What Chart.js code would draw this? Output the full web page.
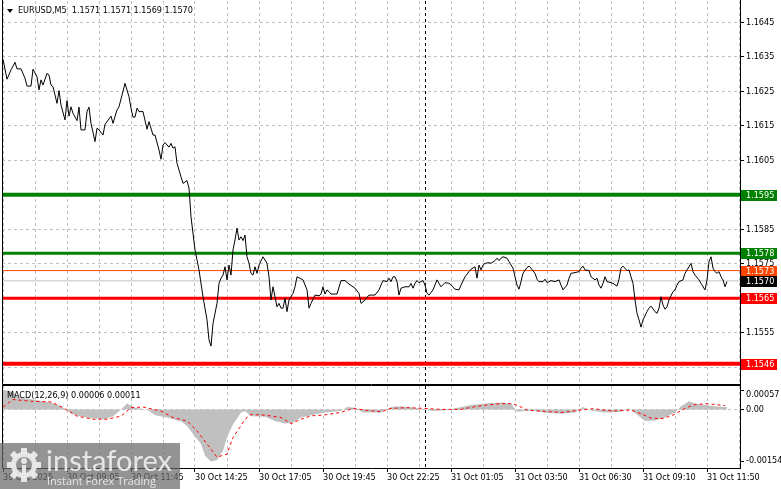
<!DOCTYPE html>
<html lang="en">
<head>
<meta charset="UTF-8">
<title>EURUSD M5</title>
<script src="https://cdn.jsdelivr.net/npm/chart.js@4.4.1/dist/chart.umd.min.js"></script>
<style>
  html, body { margin: 0; padding: 0; background: #fff; }
  #wrap { position: relative; width: 781px; height: 489px; overflow: hidden; }
  #wrap canvas { position: absolute; left: 0; }
  #main { top: 0; }
  #macd { top: 385px; }
</style>
</head>
<body>
<div id="wrap">
  <canvas id="main" width="781" height="385"></canvas>
  <canvas id="macd" width="781" height="104"></canvas>
</div>
<script>
const FONT = '"DejaVu Sans Condensed", "DejaVu Sans", sans-serif';

// bar number (5 min bars, 0 = 30 Oct 06:25) and close
const barIdx = [0,2,4,6,7,9,11,12,14,15,17,18,19,20,22,23,24,25,27,28,29,31,32,33,34,35,37,38,39,41,
  42,43,44,46,47,48,50,51,54,55,57,58,61,63,64,65,66,67,68,70,72,73,75,76,78,79,80,81,83,84,
  85,86,87,89,90,92,93,94,96,97,98,100,102,103,104,105,107,108,109,110,111,112,113,114,115,116,117,118,119,120,
  121,122,123,124,125,126,127,128,130,132,133,134,135,136,137,138,139,140,141,142,143,145,146,147,150,152,153,154,156,158,
  159,160,161,162,163,164,167,169,171,173,176,178,179,181,183,184,186,188,189,190,192,193,194,195,196,197,198,199,201,203,
  204,205,206,207,208,210,211,212,213,215,217,218,219,221,223,224,226,228,229,231,233,234,236,237,238,239,240,241,243,244,
  246,247,248,249,250,252,253,255,256,257,258,259,260,262,263,264,266,267,268,270,271,272,274,276,278,279,280,282,283,284,
  286,288,289,290,291,293,294,296,297,298,299,300,301,302,304,305,307,308,309,310,312,313,314,315,316,317,318,319,320,322,
  323,324,326,327,328,329,330,331,332,333,335,336,337,338,340,341,342,343,344,345,346,348,349,351,352,353,354,355,356,357,
  358,359,360,361,362];
const closes = [1.16343,1.16285,1.16312,1.16334,1.16315,1.16315,1.16288,1.16265,1.16265,1.16314,1.16292,1.16254,1.16283,1.16268,1.16302,1.16297,1.16268,1.16263,1.16215,1.16252,1.16210,1.16167,1.16223,1.16178,1.16205,1.16186,1.16165,1.16204,1.16138,1.16138,
  1.16191,1.16204,1.16157,1.16104,1.16143,1.16138,1.16123,1.16154,1.16178,1.16157,1.16196,1.16205,1.16273,1.16234,1.16201,1.16175,1.16175,1.16201,1.16191,1.16191,1.16140,1.16162,1.16123,1.16123,1.16080,1.16053,1.16094,1.16101,1.16088,1.16099,
  1.16085,1.16089,1.16041,1.16002,1.15983,1.15991,1.15969,1.15886,1.15790,1.15761,1.15732,1.15654,1.15587,1.15529,1.15511,1.15577,1.15635,1.15693,1.15708,1.15717,1.15741,1.15703,1.15746,1.15717,1.15790,1.15819,1.15853,1.15819,1.15828,1.15817,
  1.15833,1.15770,1.15751,1.15722,1.15717,1.15741,1.15722,1.15746,1.15770,1.15751,1.15712,1.15645,1.15683,1.15654,1.15625,1.15635,1.15621,1.15621,1.15650,1.15611,1.15645,1.15664,1.15683,1.15712,1.15703,1.15674,1.15621,1.15635,1.15659,1.15657,
  1.15662,1.15683,1.15662,1.15674,1.15669,1.15662,1.15662,1.15701,1.15701,1.15691,1.15679,1.15664,1.15635,1.15645,1.15659,1.15659,1.15659,1.15674,1.15688,1.15701,1.15698,1.15708,1.15698,1.15712,1.15712,1.15698,1.15659,1.15679,1.15683,1.15683,
  1.15693,1.15679,1.15693,1.15701,1.15695,1.15701,1.15688,1.15664,1.15659,1.15674,1.15703,1.15693,1.15683,1.15695,1.15693,1.15688,1.15676,1.15674,1.15688,1.15712,1.15727,1.15734,1.15741,1.15708,1.15746,1.15732,1.15746,1.15751,1.15753,1.15751,
  1.15759,1.15766,1.15759,1.15766,1.15770,1.15766,1.15756,1.15737,1.15712,1.15688,1.15676,1.15698,1.15722,1.15739,1.15743,1.15737,1.15722,1.15705,1.15698,1.15698,1.15705,1.15695,1.15701,1.15698,1.15703,1.15688,1.15674,1.15688,1.15708,1.15722,
  1.15724,1.15727,1.15737,1.15743,1.15732,1.15730,1.15712,1.15703,1.15708,1.15688,1.15679,1.15693,1.15712,1.15698,1.15695,1.15693,1.15685,1.15705,1.15737,1.15743,1.15730,1.15732,1.15712,1.15693,1.15645,1.15606,1.15587,1.15566,1.15587,1.15611,
  1.15621,1.15627,1.15611,1.15606,1.15621,1.15654,1.15630,1.15618,1.15625,1.15645,1.15669,1.15674,1.15688,1.15698,1.15703,1.15722,1.15732,1.15741,1.15751,1.15727,1.15717,1.15703,1.15693,1.15674,1.15703,1.15756,1.15770,1.15737,1.15727,1.15722,
  1.15727,1.15712,1.15703,1.15683,1.15698];

// MACD(12,26,9) histogram and signal
const macdIdx = [0,3,5,9,15,24,29,31,36,44,51,55,59,62,66,72,76,82,89,92,95,99,101,104,107,110,112,115,119,121,
  124,131,136,141,145,149,154,161,169,172,176,180,189,194,199,206,215,221,226,234,241,249,254,257,264,271,279,286,290,295,
  301,309,313,318,321,326,331,336,339,343,346,351,356,362];
const macdHist = [0.00057,0.00055,0.00050,0.00034,0.00029,0.00020,0.00009,0,-0.00017,-0.00026,-0.00029,-0.00020,0,0.00017,0.00005,0,-0.00017,-0.00024,-0.00036,-0.00048,-0.00073,-0.00102,-0.00137,-0.00154,-0.00150,-0.00122,-0.00083,-0.00044,-0.00009,-0.00005,
  -0.00020,-0.00022,-0.00034,-0.00042,-0.00039,-0.00024,-0.00017,-0.00009,-0.00005,0.00007,0.00005,-0.00009,-0.00009,0.00007,0.00009,0.00005,-0.00005,-0.00003,0.00003,0.00013,0.00017,0.00020,0.00017,-0.00007,-0.00003,-0.00009,-0.00013,-0.00009,0.00007,-0.00005,
  -0.00009,-0.00007,0.00003,-0.00020,-0.00034,-0.00033,-0.00024,-0.00009,0.00009,0.00024,0.00017,0.00013,0.00009,0.00006];
const signalIdx = [0,5,14,24,30,37,45,52,59,64,70,79,85,92,97,102,107,112,115,119,121,124,131,139,144,149,154,160,169,175,
  182,189,194,202,210,219,229,235,242,249,255,259,262,272,280,289,295,305,314,320,324,330,335,340,345,352,361];
const signalVals = [0.00007,0.00029,0.00024,0.00022,0.00005,-0.00020,-0.00029,-0.00029,-0.00020,0.00005,0.00007,-0.00005,-0.00024,-0.00034,-0.00063,-0.00102,-0.00141,-0.00132,-0.00083,-0.00048,-0.00029,-0.00015,-0.00017,-0.00024,-0.00042,-0.00029,-0.00019,-0.00017,-0.00009,0.00003,
  -0.00003,-0.00007,0.00003,0.00005,0.00003,0,0,0.00007,0.00013,0.00017,0.00017,0.00007,-0.00002,-0.00007,-0.00009,-0.00002,0.00002,-0.00005,-0.00002,-0.00015,-0.00026,-0.00027,-0.00017,0,0.00013,0.00017,0.00011];

// horizontal levels
const levelPrices = [1.1595, 1.1578, 1.1573, 1.1570, 1.1565, 1.1546];
const levelColors = ['#008000', '#008000', '#ff4500', '#c0c0c0', '#ff0000', '#ff0000'];
const levelWidths = [4, 3, 1, 1, 3, 4];
const levelLabelBg = ['#008000', '#008000', '#ff4500', '#000000', '#ff0000', '#ff0000'];

// axes
const priceTicks = [1.1545, 1.1555, 1.1565, 1.1575, 1.1585, 1.1595, 1.1605, 1.1615, 1.1625, 1.1635, 1.1645];
const macdTicks = [0.00057, 0, -0.00154];
const macdTickText = ['0.00057', '0.00', '-0.00154'];
const timeLabels = ['30 Oct 2025', '30 Oct 09:05', '30 Oct 11:45', '30 Oct 14:25', '30 Oct 17:05', '30 Oct 19:45',
  '30 Oct 22:25', '31 Oct 01:05', '31 Oct 03:50', '31 Oct 06:30', '31 Oct 09:10', '31 Oct 11:50'];
const separatorBar = 211;   // 31 Oct 00:00

const X_MIN = -0.5, X_MAX = 368.5;
const gridBars = [];
for (let b = 0; b <= 368; b += 16) gridBars.push(b);

const fnt = { family: FONT, size: 9 };

// drop the label overhang padding chart.js adds, so the plot keeps a fixed size
function fixBox(w, h) {
  return s => {
    if (w !== null) s.width = w;
    if (h !== null) s.height = h;
    s.paddingTop = 0; s.paddingBottom = 0; s.paddingLeft = 0; s.paddingRight = 0;
  };
}

function drawSeparator(chart) {
  const { ctx, chartArea: a, scales: { x } } = chart;
  const px = Math.round(x.getPixelForValue(separatorBar)) + 0.5;
  ctx.save();
  ctx.strokeStyle = '#000';
  ctx.lineWidth = 1;
  ctx.setLineDash([3, 3]);
  ctx.beginPath();
  ctx.moveTo(px, a.top);
  ctx.lineTo(px, a.bottom);
  ctx.stroke();
  ctx.restore();
}

function drawFrame(ctx, a, top) {
  ctx.save();
  ctx.strokeStyle = '#000';
  ctx.lineWidth = 1;
  ctx.beginPath();
  if (top) { ctx.moveTo(a.left + 0.5, a.top - 0.5); ctx.lineTo(a.right + 0.5, a.top - 0.5); }
  ctx.moveTo(a.left + 0.5, a.top - 1);
  ctx.lineTo(a.left + 0.5, a.bottom + 0.5);
  ctx.lineTo(a.right + 0.5, a.bottom + 0.5);
  ctx.lineTo(a.right + 0.5, a.top - 1);
  ctx.stroke();
  ctx.restore();
}

const mainDecor = {
  id: 'mainDecor',
  beforeDatasetsDraw(chart) { drawSeparator(chart); },
  afterDraw(chart) {
    const { ctx, chartArea: a, scales: { y } } = chart;
    drawFrame(ctx, a, false);
    ctx.save();
    ctx.font = '9px ' + FONT;
    ctx.textBaseline = 'middle';
    levelPrices.forEach((p, k) => {
      const py = Math.round(y.getPixelForValue(p));
      ctx.fillStyle = levelLabelBg[k];
      ctx.fillRect(a.right + 1, py - 5, 36, 11);
      ctx.fillStyle = '#fff';
      ctx.fillText(p.toFixed(4), a.right + 6, py + 0.5);
    });
    // symbol header
    ctx.fillStyle = '#000';
    ctx.beginPath();
    ctx.moveTo(7, 9); ctx.lineTo(13, 9); ctx.lineTo(10, 13); ctx.closePath();
    ctx.fill();
    ctx.fillText('EURUSD,M5  1.1571 1.1571 1.1569 1.1570', 18, 11);
    ctx.restore();
  }
};

function drawGear(ctx, cx, cy, r) {
  ctx.save();
  ctx.translate(cx, cy);
  for (let k = 0; k < 8; k++) {
    ctx.rotate(Math.PI / 4);
    ctx.fillRect(-3, -r - 4, 6, 6);
  }
  ctx.beginPath();
  ctx.arc(0, 0, r, 0, Math.PI * 2);
  ctx.arc(0, 0, r - 5, 0, Math.PI * 2, true);
  ctx.fill();
  ctx.beginPath();
  ctx.arc(0, -4, 3, 0, Math.PI * 2);
  ctx.fill();
  ctx.fillRect(-2, 0, 4, 9);
  ctx.restore();
}

const macdDecor = {
  id: 'macdDecor',
  beforeDatasetsDraw(chart) { drawSeparator(chart); },
  afterDraw(chart) {
    const { ctx, chartArea: a, scales: { y } } = chart;
    drawFrame(ctx, a, true);
    ctx.save();
    ctx.font = '9px ' + FONT;
    ctx.textBaseline = 'middle';
    ctx.fillStyle = '#000';
    ctx.fillText('MACD(12,26,9) 0.00006 0.00011', 7, 11);
    // scale labels, the outer two pulled inside the panel like the terminal does
    macdTicks.forEach((v, k) => {
      let py = y.getPixelForValue(v);
      if (k === 0) py += 5;
      if (k === macdTicks.length - 1) py -= 1;
      ctx.fillText(macdTickText[k], a.right + 6, py);
    });
    // watermark
    ctx.fillStyle = 'rgba(105,105,105,0.72)';
    ctx.fillRect(0, 58, 180, 46);
    ctx.fillStyle = 'rgba(235,235,235,0.95)';
    drawGear(ctx, 24, 80, 13);
    ctx.font = '29px Lato, "Open Sans", sans-serif';
    ctx.textBaseline = 'alphabetic';
    ctx.fillText('instaforex', 46, 86);
    ctx.font = '11px "Open Sans", sans-serif';
    ctx.fillText('Instant Forex Trading', 47, 100);
    ctx.restore();
  }
};

new Chart(document.getElementById('main'), {
  type: 'line',
  data: {
    datasets: [
      { data: barIdx.map((b, k) => ({ x: b, y: closes[k] })), borderColor: '#000', borderWidth: 1, pointRadius: 0, tension: 0 }
    ].concat(levelPrices.map((p, k) => ({
      data: [{ x: X_MIN, y: p }, { x: X_MAX, y: p }],
      borderColor: levelColors[k], borderWidth: levelWidths[k], pointRadius: 0
    })))
  },
  options: {
    responsive: false, animation: false, events: [],
    layout: { padding: { left: 2, top: 1, right: 0, bottom: 1 } },
    plugins: { legend: { display: false }, tooltip: { enabled: false } },
    scales: {
      x: {
        type: 'linear', min: X_MIN, max: X_MAX,
        afterBuildTicks: s => { s.ticks = gridBars.map(v => ({ value: v })); },
        afterFit: fixBox(null, 0),
        ticks: { display: false },
        grid: { color: '#c0c0c0', drawTicks: false },
        border: { display: false, dash: [3, 3] }
      },
      y: {
        position: 'right', min: 1.154011, max: 1.165118,
        afterBuildTicks: s => { s.ticks = priceTicks.map(v => ({ value: v })); },
        afterFit: fixBox(41, null),
        ticks: { color: '#000', font: fnt, padding: 2, callback: v => v.toFixed(4) },
        grid: { color: '#c0c0c0', tickColor: '#000', tickLength: 4 },
        border: { display: true, color: '#000', dash: [3, 3] }
      }
    }
  },
  plugins: [mainDecor]
});

new Chart(document.getElementById('macd'), {
  type: 'line',
  data: {
    datasets: [
      { data: signalIdx.map((b, k) => ({ x: b, y: signalVals[k] })), borderColor: '#ff0000', borderWidth: 1, borderDash: [3, 3], pointRadius: 0, tension: 0, fill: false },
      { data: macdIdx.map((b, k) => ({ x: b, y: macdHist[k] })), borderWidth: 0, borderColor: 'rgba(0,0,0,0)', backgroundColor: '#c0c0c0', pointRadius: 0, tension: 0, fill: 'origin' }
    ]
  },
  options: {
    responsive: false, animation: false, events: [],
    layout: { padding: { left: 2, top: 1, right: 0, bottom: 0 } },
    plugins: { legend: { display: false }, tooltip: { enabled: false } },
    scales: {
      x: {
        type: 'linear', min: X_MIN, max: X_MAX,
        afterBuildTicks: s => { s.ticks = gridBars.map(v => ({ value: v })); },
        afterFit: fixBox(null, 21),
        ticks: {
          color: '#000', font: fnt, padding: 0, align: 'start', autoSkip: false, maxRotation: 0,
          callback: v => (v % 32 === 0 ? timeLabels[v / 32] : '')
        },
        grid: {
          color: '#c0c0c0', tickLength: 4,
          tickColor: c => (c.tick && c.tick.value % 32 === 0 ? '#000' : 'rgba(0,0,0,0)')
        },
        border: { display: false, dash: [3, 3] }
      },
      y: {
        position: 'right', min: -0.00173, max: 0.00069,
        afterBuildTicks: s => { s.ticks = macdTicks.map(v => ({ value: v })); },
        afterFit: fixBox(41, null),
        ticks: { display: false },
        grid: { color: c => (c.tick && c.tick.value === 0 ? '#c0c0c0' : 'rgba(0,0,0,0)'), tickColor: '#000', tickLength: 4 },
        border: { display: true, color: '#000', dash: [3, 3] }
      }
    }
  },
  plugins: [macdDecor]
});
</script>
</body>
</html>
